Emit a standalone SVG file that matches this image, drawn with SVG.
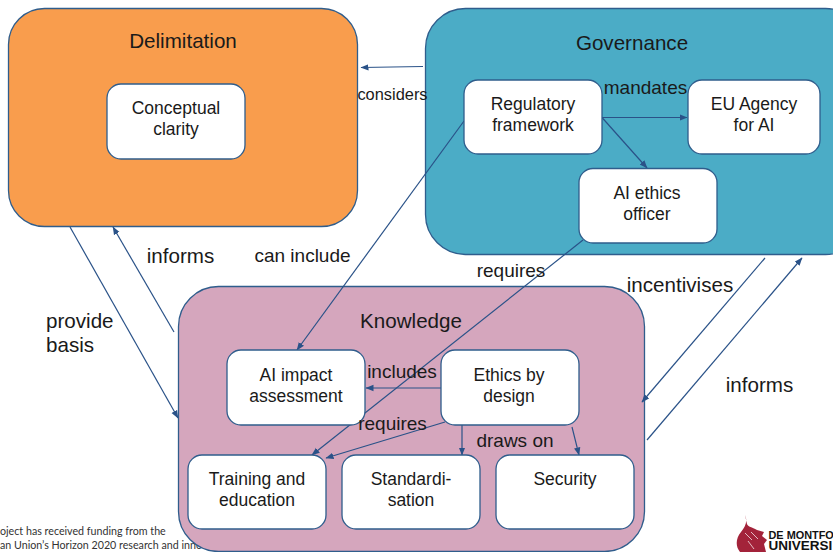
<svg xmlns="http://www.w3.org/2000/svg" width="833" height="552" viewBox="0 0 833 552">
<defs>
<marker id="a" markerWidth="9" markerHeight="8" refX="7.5" refY="3.5" orient="auto" markerUnits="userSpaceOnUse"><path d="M0,0.3L8,3.5L0,6.7z" fill="#2a5288"/></marker>
</defs>
<style>
text{font-family:"Liberation Sans",Arial,sans-serif;fill:#1a1a1a;text-anchor:middle}
.t{font-size:17.500px}
.m{font-size:19px}
.l{font-size:20.600px}
.f{font-family:Lato,"Open Sans",sans-serif;font-size:10.700px;fill:#333;text-anchor:start}
.b{stroke:#2f5d8c;stroke-width:1.3}
.n{fill:#fff;stroke:#2f5d8c;stroke-width:1.3}
.c{fill:none;stroke:#2a5288;stroke-width:1.2;marker-end:url(#a)}
</style>
<rect width="833" height="552" fill="#fff"/>
<g id="footer">
<text x="0" y="535" class="f">oject has received funding from the</text>
<text x="0" y="549" class="f">an Union’s Horizon 2020 research and inno</text>
<path d="M745,515C748,522 745,527 741,532C736,538 735,546 740,552H766L764,544L767,540L762,536L764,532L757,530C752,527 748,527 747,524C746,521 746,518 745,515z" fill="#a3233a"/>
<path d="M745,533L752,540M751,532L758,539M748,541L754,549" stroke="#fff" stroke-width="1" fill="none" opacity="0.7"/>
<text x="768.500" y="538.500" style="text-anchor:start;font-weight:700;font-size:10.900px;fill:#111">DE MONTFO</text>
<text x="768.500" y="550" style="text-anchor:start;font-weight:700;font-size:13.500px;fill:#111">UNIVERSI</text>
</g>
<g id="delimitation"><rect class="b" x="8.500" y="8.500" width="349" height="218" rx="36" fill="#f99d4d"/><text x="183" y="47.500" class="l">Delimitation</text></g>
<g id="governance"><rect class="b" x="425.500" y="8.500" width="440" height="246" rx="40" fill="#4bacc6"/><text x="632" y="49.500" class="l">Governance</text></g>
<g id="knowledge"><rect class="b" x="178.500" y="286.500" width="466" height="265" rx="40" fill="#d5a6bd"/><text x="411" y="327.500" class="l">Knowledge</text></g>
<g id="connectors">
<path class="c" d="M423,66.500L361,67.500"/>
<path class="c" d="M602,117.500H687"/>
<path class="c" d="M602,117.500L647,168"/>
<path class="c" d="M464,121L297,350"/>
<path class="c" d="M583,240L312,455"/>
<path class="c" d="M441,388H366"/>
<path class="c" d="M445,422L326,458"/>
<path class="c" d="M462,425V455"/>
<path class="c" d="M572,427L579,455"/>
<path class="c" d="M174,332L113,227"/>
<path class="c" d="M70,227L178,418"/>
<path class="c" d="M765,258L642,402"/>
<path class="c" d="M647,440L802,258"/>
</g>
<g id="conceptual-clarity"><rect class="n" x="107" y="84" width="138" height="75" rx="14"/><text class="t" x="176" y="114">Conceptual</text><text class="t" x="176" y="135">clarity</text></g>
<g id="regulatory-framework"><rect class="n" x="464" y="80" width="138" height="74" rx="14"/><text class="t" x="533" y="110">Regulatory</text><text class="t" x="533" y="131">framework</text></g>
<g id="eu-agency"><rect class="n" x="688" y="80" width="132" height="74" rx="14"/><text class="t" x="754" y="110">EU Agency</text><text class="t" x="754" y="131">for AI</text></g>
<g id="ai-ethics-officer"><rect class="n" x="579" y="168.500" width="138" height="74.500" rx="14"/><text class="t" x="647" y="199">AI ethics</text><text class="t" x="647" y="220">officer</text></g>
<g id="ai-impact"><rect class="n" x="227" y="350" width="138" height="75" rx="14"/><text class="t" x="296" y="381">AI impact</text><text class="t" x="296" y="402">assessment</text></g>
<g id="ethics-by-design"><rect class="n" x="441" y="350" width="138" height="75" rx="14"/><text class="t" x="509" y="381">Ethics by</text><text class="t" x="509" y="402">design</text></g>
<g id="training"><rect class="n" x="188" y="455" width="138" height="74" rx="14"/><text class="t" x="257" y="485">Training and</text><text class="t" x="257" y="506">education</text></g>
<g id="standardisation"><rect class="n" x="342" y="455" width="138" height="74" rx="14"/><text class="t" x="411" y="485">Standardi-</text><text class="t" x="411" y="506">sation</text></g>
<g id="security"><rect class="n" x="496" y="455" width="138" height="74" rx="14"/><text class="t" x="565" y="485">Security</text></g>
<g id="labels">
<text x="392.500" y="100" style="font-size:16.400px">considers</text>
<text class="m" x="645.500" y="94">mandates</text>
<text class="m" x="302.500" y="262">can include</text>
<text class="m" x="511" y="277">requires</text>
<text class="l" x="180.500" y="263">informs</text>
<text class="l" x="46" y="328" style="text-anchor:start">provide</text>
<text class="l" x="46" y="352" style="text-anchor:start">basis</text>
<text class="l" x="680" y="292">incentivises</text>
<text class="l" x="759.500" y="392">informs</text>
<text class="m" x="402" y="378">includes</text>
<text class="m" x="392.500" y="430">requires</text>
<text class="m" x="515" y="447">draws on</text>
</g>
</svg>
